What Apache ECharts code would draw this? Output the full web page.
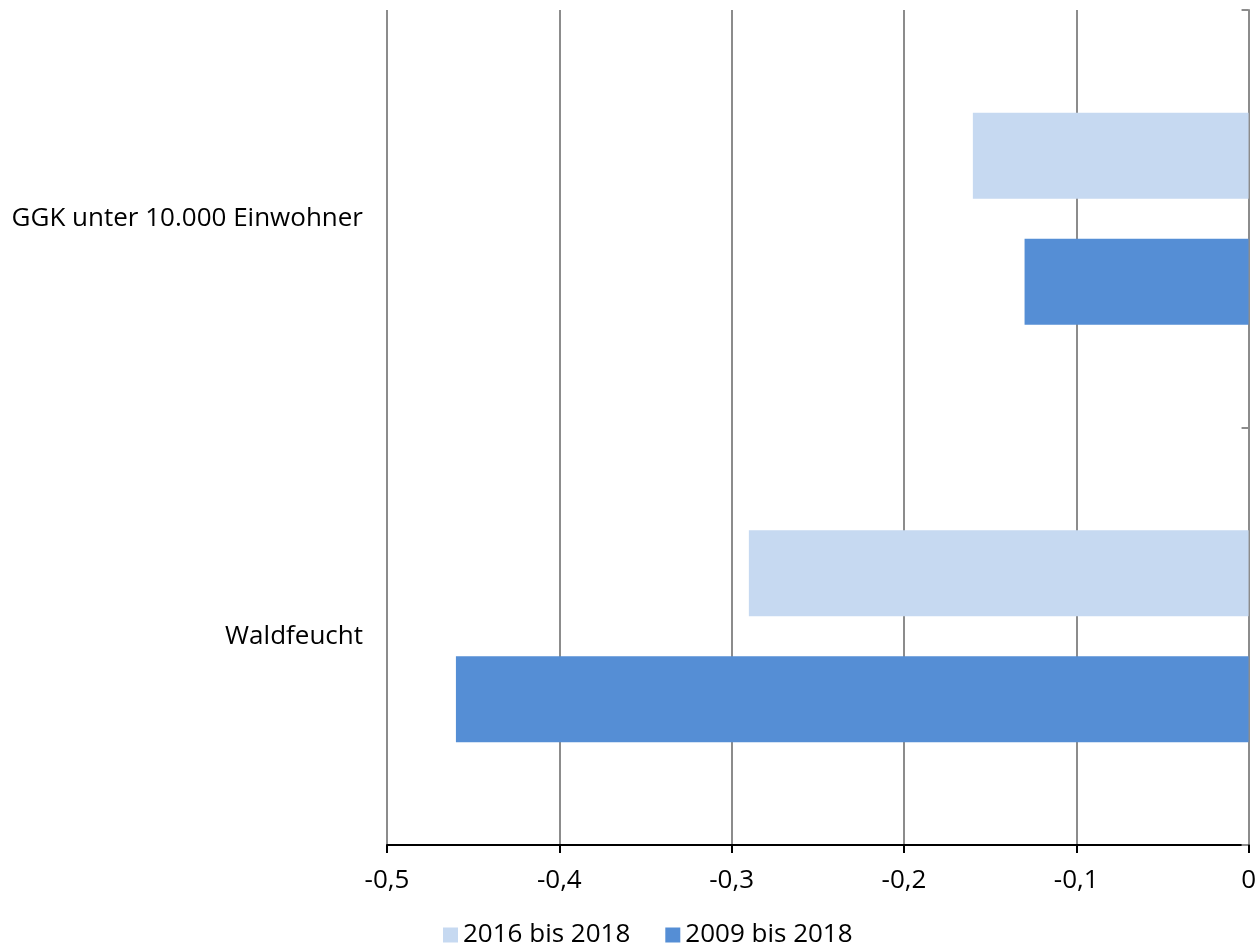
<!DOCTYPE html>
<html>
<head>
<meta charset="utf-8">
<script src="https://cdn.jsdelivr.net/npm/echarts@6/dist/echarts.min.js"></script>
<style>html,body{margin:0;padding:0;background:#fff}#c{width:1259px;height:944px}</style>
</head>
<body>
<div id="c"></div>
<script>
const categories = ['GGK unter 10.000 Einwohner', 'Waldfeucht'];
const seriesNames = ['2016 bis 2018', '2009 bis 2018'];
const values2016 = [-0.16, -0.29];
const values2009 = [-0.13, -0.46];
const xTicks = { min: -0.5, max: 0, interval: 0.1 };

const FONT = 'Open Sans';
const FS = 26;
const chart = echarts.init(document.getElementById('c'));
chart.setOption({
  animation: false,
  textStyle: { fontFamily: FONT },
  grid: { left: 387, right: 8, top: 10, bottom: 99, containLabel: false },
  legend: {
    bottom: -9,
    left: 438,
    data: seriesNames,
    icon: 'rect',
    itemWidth: 15,
    itemHeight: 15,
    itemGap: 35,
    textStyle: { fontSize: FS, color: '#000', fontFamily: FONT }
  },
  xAxis: {
    type: 'value',
    min: xTicks.min, max: xTicks.max, interval: xTicks.interval,
    axisLine: { show: true, lineStyle: { color: '#000', width: 2 } },
    axisTick: { show: true, length: 8, lineStyle: { color: '#000', width: 2 } },
    axisLabel: {
      fontSize: FS, color: '#000', margin: 23, fontFamily: FONT,
      formatter: v => (Math.round(v * 10) / 10).toString().replace('.', ',')
    },
    splitLine: { show: true, lineStyle: { color: '#8c8c8c', width: 2 } }
  },
  yAxis: [{
    type: 'category',
    data: categories,
    inverse: true,
    position: 'left',
    axisLine: { show: false },
    axisTick: { show: false },
    axisLabel: { fontSize: FS, color: '#000', margin: 24, fontFamily: FONT }
  }, {
    type: 'category',
    data: categories,
    inverse: true,
    position: 'right',
    axisLine: { show: true, lineStyle: { color: '#8c8c8c', width: 2 } },
    axisTick: { show: true, inside: true, length: 7, lineStyle: { color: '#8c8c8c', width: 2 } },
    axisLabel: { show: false }
  }],
  series: [{
    name: seriesNames[0],
    type: 'bar',
    data: values2016,
    barWidth: 86,
    barGap: '46.5%',
    itemStyle: { color: '#C6D9F1' }
  }, {
    name: seriesNames[1],
    type: 'bar',
    data: values2009,
    barWidth: 86,
    barGap: '46.5%',
    itemStyle: { color: '#558ED5' }
  }]
});
</script>
</body>
</html>
